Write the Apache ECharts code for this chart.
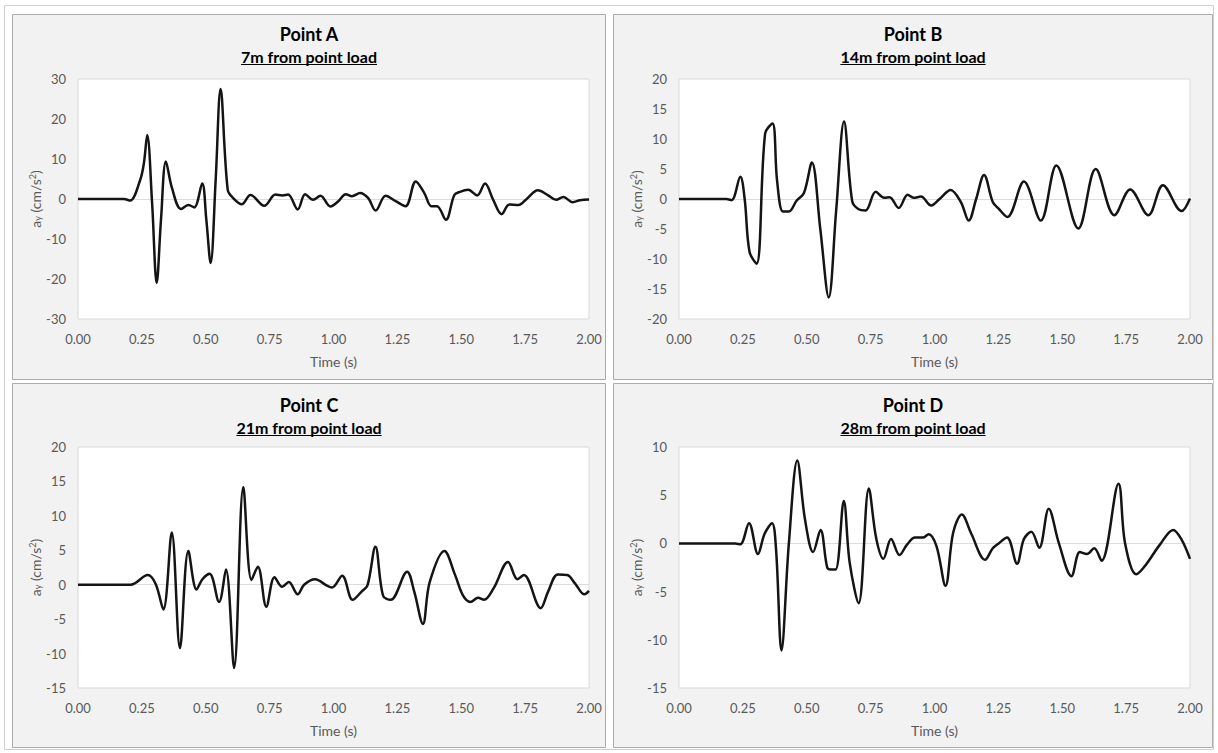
<!DOCTYPE html>
<html lang="en">
<head>
<meta charset="UTF-8">
<title>Vertical acceleration, points A-D</title>
<script src="https://cdn.jsdelivr.net/npm/echarts@6/dist/echarts.min.js"></script>
<style>
    html, body { margin: 0; padding: 0; background: #fff; }
    #main { width: 1218px; height: 753px; }
</style>
</head>
<body>
<div id="main"></div>
<script>
// time (s) / acceleration (cm/s2) at the turning points of each trace
var tA = [0, 0.18, 0.204, 0.243, 0.258, 0.271, 0.29, 0.308, 0.325, 0.344, 0.368, 0.403, 0.432, 0.455, 0.486, 0.502, 0.519, 0.539, 0.558, 0.586, 0.608, 0.641, 0.675, 0.729, 0.773, 0.80, 0.822, 0.86, 0.889, 0.92, 0.949, 0.988, 1.02, 1.048, 1.072, 1.104, 1.136, 1.165, 1.204, 1.245, 1.282, 1.322, 1.356, 1.383, 1.405, 1.44, 1.473, 1.495, 1.527, 1.562, 1.593, 1.625, 1.658, 1.688, 1.724, 1.756, 1.80, 1.84, 1.871, 1.90, 1.936, 1.965, 2.0];
var aA = [0, 0, -0.4, 4.7, 9, 16, -1, -21, -5, 9.4, 2.7, -2.5, -1.5, -2.1, 3.9, -5, -16, 5, 27.5, 2.3, 0.2, -1.3, 1, -1.7, 1.1, 0.9, 1.1, -2.6, 1.2, -0.2, 0.8, -1.9, -0.5, 1.2, 0.7, 1.5, 0.2, -2.9, 0.8, -0.6, -1.8, 4.4, 1.4, -1.8, -1.8, -5.2, 1, 1.8, 2.3, 0.9, 3.9, -0.2, -3.8, -1.4, -1.5, 0, 2.2, 0.9, -0.2, 0.5, -0.8, -0.3, -0.1];

var tB = [0, 0.185, 0.206, 0.24, 0.257, 0.276, 0.304, 0.337, 0.366, 0.384, 0.407, 0.43, 0.46, 0.489, 0.52, 0.553, 0.586, 0.615, 0.646, 0.678, 0.703, 0.73, 0.77, 0.803, 0.824, 0.86, 0.895, 0.918, 0.947, 0.987, 1.02, 1.063, 1.103, 1.134, 1.163, 1.194, 1.228, 1.251, 1.285, 1.35, 1.416, 1.477, 1.563, 1.631, 1.704, 1.766, 1.837, 1.894, 1.967, 2.0];
var aB = [0, 0, -0.2, 3.7, 0, -8.8, -10.8, 10.9, 12.6, 3, -2.1, -2.1, -0.3, 1, 6.1, -5, -16.4, -2, 12.9, -0.4, -1.7, -1.9, 1.2, 0.2, 0.3, -1.5, 0.7, 0.2, 0.4, -1.1, 0, 1.5, -0.5, -3.6, 0, 4, -0.5, -1.6, -3, 2.9, -3.6, 5.6, -4.9, 5, -2.7, 1.6, -2.7, 2.3, -2.0, 0.1];

var tC = [0, 0.206, 0.273, 0.304, 0.334, 0.367, 0.399, 0.432, 0.464, 0.487, 0.515, 0.552, 0.579, 0.611, 0.647, 0.679, 0.704, 0.737, 0.769, 0.799, 0.825, 0.86, 0.885, 0.928, 0.973, 0.994, 1.034, 1.075, 1.11, 1.133, 1.164, 1.194, 1.224, 1.288, 1.316, 1.35, 1.376, 1.434, 1.475, 1.506, 1.536, 1.566, 1.589, 1.627, 1.683, 1.72, 1.745, 1.811, 1.84, 1.878, 1.915, 1.945, 1.982, 2.0];
var aC = [0, 0, 1.4, 0.1, -3.6, 7.6, -9.2, 4.9, -0.7, 0.8, 1.6, -2.5, 2.2, -12.1, 14.2, 0.7, 2.6, -3.2, 1.1, -0.3, 0.4, -1.4, 0, 0.8, -0.1, -0.4, 1.3, -2.2, -1, -0.1, 5.5, -1.6, -2.2, 1.9, -1, -5.7, 0.3, 4.9, 1.5, -1.5, -2.5, -1.9, -2.2, -0.5, 3.3, 0.8, 1.4, -3.4, -1, 1.5, 1.4, 0.2, -1.4, -0.9];

var tD = [0, 0.22, 0.24, 0.274, 0.309, 0.335, 0.364, 0.38, 0.401, 0.43, 0.463, 0.493, 0.525, 0.554, 0.58, 0.594, 0.613, 0.645, 0.668, 0.703, 0.743, 0.772, 0.8, 0.83, 0.863, 0.893, 0.924, 0.954, 0.977, 1.008, 1.043, 1.073, 1.107, 1.144, 1.198, 1.228, 1.251, 1.284, 1.323, 1.35, 1.379, 1.41, 1.447, 1.487, 1.536, 1.569, 1.597, 1.625, 1.654, 1.72, 1.746, 1.79, 1.822, 1.883, 1.934, 1.967, 2.0];
var aD = [0, 0, -0.1, 2.1, -1.1, 1, 2.1, -0.7, -11.1, 0, 8.6, 2.5, -0.9, 1.4, -2.5, -2.7, -2.7, 4.4, -2, -6.2, 5.7, 0.5, -1.6, 0.45, -1.2, -0.1, 0.6, 0.6, 0.95, -0.3, -4.4, 1.1, 3, 1, -1.7, -0.5, 0, 0.6, -2.1, 0.45, 1.2, -0.45, 3.6, 0, -3.4, -0.9, -1.1, -0.5, -1.8, 6.2, 0, -3.2, -2.4, -0.1, 1.4, 0.4, -1.6];

var titles = ['Point A', 'Point B', 'Point C', 'Point D'];
var distances = ['7m from point load', '14m from point load', '21m from point load', '28m from point load'];
var yMin = [-30, -20, -15, -15];
var yMax = [30, 20, 20, 10];
var yStep = [10, 5, 5, 5];
var times = [tA, tB, tC, tD];
var accels = [aA, aB, aC, aD];

var FONT = 'Lato, "Open Sans", sans-serif';
var GREY = '#595959';

// panel frame, plot area and title rows
var layout = [
    {box: [12.5, 14.5, 593, 365], grid: [78, 79, 511, 240], titleY: 34, subY: 56},
    {box: [613.5, 14.5, 599, 365], grid: [679, 79, 511, 240], titleY: 34, subY: 56},
    {box: [12.5, 383.5, 593, 364], grid: [78, 447, 511, 241], titleY: 405, subY: 427},
    {box: [613.5, 383.5, 599, 364], grid: [679, 447, 511, 241], titleY: 405, subY: 427}
];

var measure = document.createElement('canvas').getContext('2d');
measure.font = 'bold 16px Lato';

var grids = [], xAxes = [], yAxes = [], series = [];
var graphics = [{
    type: 'rect', z: -20,
    shape: {x: 4.5, y: 5.5, width: 1209, height: 744},
    style: {fill: '#fff', stroke: '#d0d0d0', lineWidth: 1}
}];

layout.forEach(function (p, i) {
    var cx = p.box[0] + p.box[2] / 2;
    graphics.push({
        type: 'rect', z: -10,
        shape: {x: p.box[0], y: p.box[1], width: p.box[2], height: p.box[3]},
        style: {fill: '#f2f2f2', stroke: '#ababab', lineWidth: 1}
    });
    graphics.push({
        type: 'text', x: cx, y: p.titleY,
        style: {text: titles[i], fill: '#000', font: 'bold 18px ' + FONT, align: 'center', verticalAlign: 'middle'}
    });
    graphics.push({
        type: 'text', x: cx, y: p.subY,
        style: {text: distances[i], fill: '#000', font: 'bold 16px ' + FONT, align: 'center', verticalAlign: 'middle'}
    });
    var w = measure.measureText(distances[i]).width;
    graphics.push({
        type: 'line',
        shape: {x1: cx - w / 2, y1: p.subY + 8.5, x2: cx + w / 2, y2: p.subY + 8.5},
        style: {stroke: '#000', lineWidth: 1.2}
    });

    grids.push({
        left: p.grid[0], top: p.grid[1], width: p.grid[2], height: p.grid[3],
        show: true, backgroundColor: '#fff', borderColor: '#d9d9d9', borderWidth: 1
    });

    xAxes.push({
        gridIndex: i, type: 'value', min: 0, max: 2, interval: 0.25,
        name: 'Time (s)', nameLocation: 'middle', nameGap: 35,
        nameTextStyle: {color: GREY, fontSize: 14, fontFamily: FONT},
        axisLine: {show: false}, axisTick: {show: false}, splitLine: {show: false},
        axisLabel: {color: GREY, fontSize: 13, fontFamily: FONT, margin: 13,
            formatter: function (v) { return v.toFixed(2); }}
    });

    // only the zero split line is visible
    var nTicks = (yMax[i] - yMin[i]) / yStep[i] + 1;
    var zeroIdx = (0 - yMin[i]) / yStep[i];
    var splitColors = [];
    for (var k = 0; k < nTicks; k++) splitColors.push(k === zeroIdx ? '#dcdcdc' : 'rgba(0,0,0,0)');

    yAxes.push({
        gridIndex: i, type: 'value', min: yMin[i], max: yMax[i], interval: yStep[i],
        name: 'a{s|y} (cm/s{p|2})', nameLocation: 'middle', nameRotate: 90, nameGap: 32,
        nameTextStyle: {
            color: GREY, fontSize: 14, fontFamily: FONT,
            rich: {
                s: {fontSize: 9, color: GREY, fontFamily: FONT, verticalAlign: 'bottom'},
                p: {fontSize: 9, color: GREY, fontFamily: FONT, verticalAlign: 'top'}
            }
        },
        axisLine: {show: false}, axisTick: {show: false},
        splitLine: {show: true, lineStyle: {color: splitColors, width: 1}},
        axisLabel: {color: GREY, fontSize: 13, fontFamily: FONT, margin: 12}
    });

    series.push({
        type: 'line', xAxisIndex: i, yAxisIndex: i,
        data: times[i].map(function (t, j) { return [t, accels[i][j]]; }),
        symbol: 'none', smooth: 0.35,
        lineStyle: {color: '#141414', width: 2.5},
        silent: true
    });
});

var myChart = echarts.init(document.getElementById('main'), null, {renderer: 'svg'});
myChart.setOption({
    animation: false,
    backgroundColor: '#fff',
    graphic: graphics,
    grid: grids,
    xAxis: xAxes,
    yAxis: yAxes,
    series: series
});
</script>
</body>
</html>
